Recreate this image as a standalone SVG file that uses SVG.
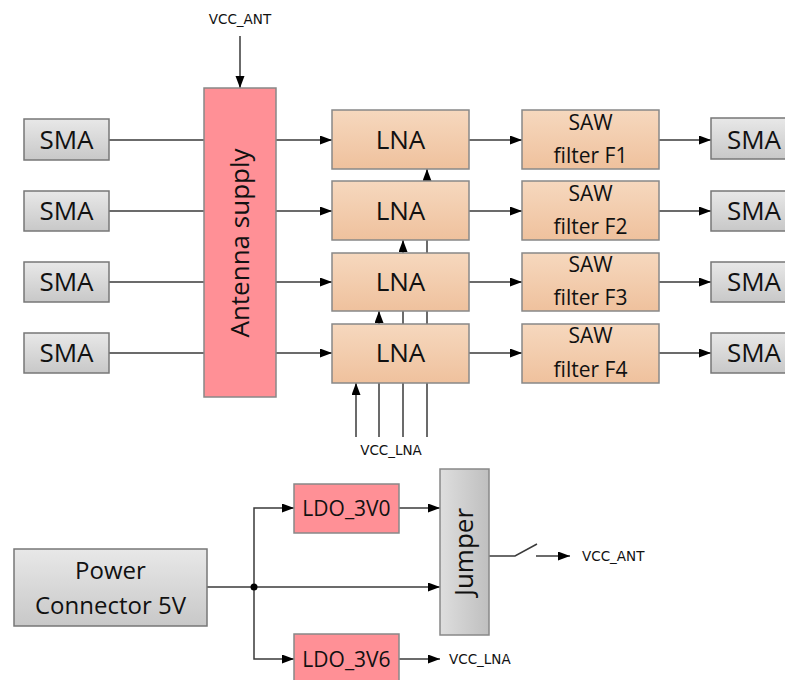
<svg xmlns="http://www.w3.org/2000/svg" width="785" height="680" viewBox="0 0 785 680">
<defs>
<linearGradient id="gGray" x1="0" y1="0" x2="0" y2="1"><stop offset="0" stop-color="#e8e8e8"/><stop offset="1" stop-color="#c8c8c8"/></linearGradient>
<linearGradient id="gPeach" x1="0" y1="0" x2="0" y2="1"><stop offset="0" stop-color="#f6d8be"/><stop offset="1" stop-color="#efc19d"/></linearGradient>
<linearGradient id="gJump" x1="0" y1="0" x2="1" y2="0"><stop offset="0" stop-color="#dedede"/><stop offset="1" stop-color="#bfbfbf"/></linearGradient>
<marker id="arr" markerUnits="userSpaceOnUse" markerWidth="13" markerHeight="10" refX="12" refY="4.5" orient="auto"><path d="M0,0 L12,4.5 L0,9 z" fill="#000"/></marker>
</defs>
<style>
.ln{stroke:#3a3a3a;stroke-width:1.5;fill:none}
.ar{marker-end:url(#arr)}
.sma{fill:url(#gGray);stroke:#777;stroke-width:1.5}
.pink{fill:#ff9096;stroke:#888;stroke-width:1.5}
.peach{fill:url(#gPeach);stroke:#888;stroke-width:1.5}
.jmp{fill:url(#gJump);stroke:#888;stroke-width:1.5}
.t{font-family:"Open Sans","Noto Sans",sans-serif;fill:#111;text-anchor:middle}
.big{font-size:26px}
.mid{font-size:21px}
.sm{font-family:"DejaVu Sans",Verdana,sans-serif;font-size:13.5px;fill:#111}
</style>
<g id="connectors">
<line class="ln ar" x1="240" y1="36" x2="240" y2="88"/>
<line class="ln" x1="109" y1="140" x2="204" y2="140"/>
<line class="ln" x1="109" y1="211" x2="204" y2="211"/>
<line class="ln" x1="109" y1="282" x2="204" y2="282"/>
<line class="ln" x1="109" y1="353" x2="204" y2="353"/>
<line class="ln ar" x1="276" y1="140" x2="332" y2="140"/>
<line class="ln ar" x1="276" y1="211" x2="332" y2="211"/>
<line class="ln ar" x1="276" y1="282" x2="332" y2="282"/>
<line class="ln ar" x1="276" y1="353" x2="332" y2="353"/>
<line class="ln ar" x1="469" y1="140" x2="522" y2="140"/>
<line class="ln ar" x1="469" y1="211" x2="522" y2="211"/>
<line class="ln ar" x1="469" y1="282" x2="522" y2="282"/>
<line class="ln ar" x1="469" y1="353" x2="522" y2="353"/>
<line class="ln ar" x1="659" y1="140" x2="711" y2="140"/>
<line class="ln ar" x1="659" y1="211" x2="711" y2="211"/>
<line class="ln ar" x1="659" y1="282" x2="711" y2="282"/>
<line class="ln ar" x1="659" y1="353" x2="711" y2="353"/>
<line class="ln ar" x1="356" y1="437" x2="356" y2="383"/>
<line class="ln ar" x1="379" y1="437" x2="379" y2="311"/>
<line class="ln ar" x1="403" y1="437" x2="403" y2="240"/>
<line class="ln ar" x1="427" y1="437" x2="427" y2="169"/>
<line class="ln" x1="207" y1="587" x2="254" y2="587"/>
<polyline class="ln ar" points="254,587 254,508 294,508"/>
<polyline class="ln ar" points="254,587 254,659 294,659"/>
<line class="ln ar" x1="254" y1="587" x2="440" y2="587"/>
<line class="ln ar" x1="399" y1="508" x2="440" y2="508"/>
<line class="ln ar" x1="399" y1="659" x2="440" y2="659"/>
<polyline class="ln" points="489,556 515,556 537,544"/>
<line class="ln ar" x1="536" y1="556" x2="570" y2="556"/>
<circle cx="254" cy="587" r="3.5" fill="#000"/>
</g>
<text class="sm" x="240" y="24" text-anchor="middle">VCC_ANT</text>
<text class="sm" x="391" y="455" text-anchor="middle">VCC_LNA</text>
<text class="sm" x="582" y="561">VCC_ANT</text>
<text class="sm" x="449" y="664">VCC_LNA</text>
<g id="sma_l1"><rect class="sma" x="24" y="119" width="85" height="41"/><text class="t big" x="66.5" y="149">SMA</text></g>
<g id="sma_l2"><rect class="sma" x="24" y="191" width="85" height="40"/><text class="t big" x="66.5" y="220">SMA</text></g>
<g id="sma_l3"><rect class="sma" x="24" y="262" width="85" height="40"/><text class="t big" x="66.5" y="291">SMA</text></g>
<g id="sma_l4"><rect class="sma" x="24" y="333" width="85" height="40"/><text class="t big" x="66.5" y="362">SMA</text></g>
<g id="antenna"><rect class="pink" x="204" y="88" width="72" height="309"/><text class="t big" transform="translate(249,243) rotate(-90)">Antenna supply</text></g>
<g id="lna1"><rect class="peach" x="332" y="110" width="137" height="59"/><text class="t big" x="400.5" y="149">LNA</text></g>
<g id="lna2"><rect class="peach" x="332" y="181" width="137" height="59"/><text class="t big" x="400.5" y="220">LNA</text></g>
<g id="lna3"><rect class="peach" x="332" y="253" width="137" height="58"/><text class="t big" x="400.5" y="291">LNA</text></g>
<g id="lna4"><rect class="peach" x="332" y="324" width="137" height="59"/><text class="t big" x="400.5" y="362">LNA</text></g>
<g id="saw1"><rect class="peach" x="522" y="110" width="137" height="59"/><text class="t mid" x="590.5" y="130">SAW</text><text class="t mid" x="590.5" y="163">filter F1</text></g>
<g id="saw2"><rect class="peach" x="522" y="181" width="137" height="59"/><text class="t mid" x="590.5" y="201">SAW</text><text class="t mid" x="590.5" y="234">filter F2</text></g>
<g id="saw3"><rect class="peach" x="522" y="253" width="137" height="58"/><text class="t mid" x="590.5" y="272">SAW</text><text class="t mid" x="590.5" y="305">filter F3</text></g>
<g id="saw4"><rect class="peach" x="522" y="324" width="137" height="59"/><text class="t mid" x="590.5" y="343">SAW</text><text class="t mid" x="590.5" y="377">filter F4</text></g>
<g id="sma_r1"><rect class="sma" x="711" y="118" width="85" height="41"/><text class="t big" x="754" y="148.5">SMA</text></g>
<g id="sma_r2"><rect class="sma" x="711" y="191" width="85" height="40"/><text class="t big" x="754" y="220">SMA</text></g>
<g id="sma_r3"><rect class="sma" x="711" y="262" width="85" height="40"/><text class="t big" x="754" y="291">SMA</text></g>
<g id="sma_r4"><rect class="sma" x="711" y="333" width="85" height="40"/><text class="t big" x="754" y="362">SMA</text></g>
<g id="power"><rect class="sma" x="14" y="549" width="193" height="77"/><text class="t" style="font-size:24px" x="110.5" y="579">Power</text><text class="t" style="font-size:24px" x="110.5" y="614">Connector 5V</text></g>
<g id="ldo3v0"><rect class="pink" x="294" y="484" width="105" height="49"/><text class="t mid" x="346.5" y="516">LDO_3V0</text></g>
<g id="ldo3v6"><rect class="pink" x="294" y="634" width="105" height="50"/><text class="t mid" x="346.5" y="667">LDO_3V6</text></g>
<g id="jumper"><rect class="jmp" x="440" y="469" width="49" height="166"/><text class="t big" transform="translate(473,552) rotate(-90)">Jumper</text></g>
</svg>
